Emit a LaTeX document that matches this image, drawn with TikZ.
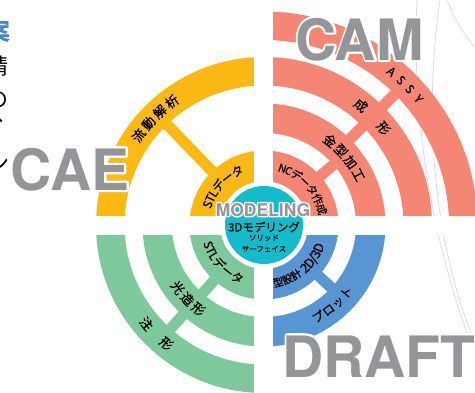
\documentclass[tikz,border=0pt]{standalone}
\usepackage{fontspec}
\setmainfont{TeX Gyre Heros}
\newfontfamily\jp{Noto Sans CJK JP}
\newfontfamily\jpl{Noto Sans CJK JP}[FakeBold=0.7]

\definecolor{caeyel}{HTML}{FDB913}
\definecolor{camred}{HTML}{F58673}
\definecolor{rpgreen}{HTML}{7DC99B}
\definecolor{draftblue}{HTML}{5796D3}
\definecolor{modteal}{HTML}{13BCCB}
\definecolor{wordgray}{HTML}{939598}
\definecolor{textblue}{HTML}{4A86C5}

% white rim round a word
\newcommand\rimword[2]{\makebox[0pt][l]{\color{white}\special{pdf:literal direct 2 Tr #1 w 1 j}#2\special{pdf:literal direct 0 Tr}}#2}

\tikzset{
  faint/.style={draw=black!15,line width=0.7pt},
  spoke/.style={line width=11pt},
  lab/.style={font=\jpl\fontsize{#1}{#1}\selectfont,inner sep=0pt,anchor=base},
  lab/.default=12,
  bigword/.style={font=\bfseries\fontsize{57}{57}\selectfont,text=wordgray,inner sep=0pt,anchor=base},
  sidetext/.style={font=\jp\fontsize{22}{22}\selectfont,inner sep=0pt,anchor=east}
}

\begin{document}
\begin{tikzpicture}[x=1pt,y=1pt]
\useasboundingbox (-264,-167) rectangle (211,225);
\clip (-264,-167) rectangle (211,225);

% faint lines in the background
\draw[faint] (153,225) .. controls (149,145) and (156,25) .. (203,-108);
\draw[faint] (176,225) .. controls (161,125) and (166,-5) .. (208,-110);
\draw[faint] (183,225) .. controls (194,200) .. (211,177);

% CAE
\foreach \ri/\ro in {44/74.5,139.5/168}
  \fill[caeyel] (90:\ro) arc[start angle=90,end angle=180,radius=\ro] -- (180:\ri) arc[start angle=180,end angle=90,radius=\ri] -- cycle;
\draw[spoke,caeyel] (134:70) -- (134:143);

% CAM
\foreach \ri/\ro in {44/74.5,92/121.5,139.5/168,185/213.5}
  \fill[camred] (0:\ro) arc[start angle=0,end angle=90,radius=\ro] -- (90:\ri) arc[start angle=90,end angle=0,radius=\ri] -- cycle;
\draw[spoke,camred] (41:70) -- (41:96);
\draw[spoke,camred] (45:117) -- (45:143);
\draw[spoke,camred] (45:164) -- (45:189);

% rapid prototyping
\foreach \ri/\ro in {44/74.5,92/121.5,139.5/168}
  \fill[rpgreen] (180:\ro) arc[start angle=180,end angle=270,radius=\ro] -- (270:\ri) arc[start angle=270,end angle=180,radius=\ri] -- cycle;
\draw[spoke,rpgreen] (228:70) -- (228:96);
\draw[spoke,rpgreen] (228:117) -- (228:143);

% DRAFT
\foreach \ri/\ro in {44/74.5,92/121.5}
  \fill[draftblue] (270:\ro) arc[start angle=270,end angle=360,radius=\ro] -- (0:\ri) arc[start angle=360,end angle=270,radius=\ri] -- cycle;
\draw[spoke,draftblue] (-43:70) -- (-43:96);

% gaps
\fill[white] (-9.5,-170) rectangle (9.5,230);
\fill[white] (-270,-9.5) rectangle (215,9.5);

\fill[modteal] (0,0) circle[radius=39];

% labels on the rings
\foreach \ch/\a [count=\i] in {流/144.5,動/138.6,解/132.6,析/126.7}
  \node[lab=13,rotate=\a-90] (yo\i) at (\a:149) {\ch};
\foreach \ch/\a [count=\i] in {S/160,T/153.8,L/147.8,デ/139.2,ー/127.7,タ/116.3}
  \node[lab=12,rotate=\a-90] (yi\i) at (\a:55.5) {\ch};

\foreach \ch/\a [count=\i] in {N/72,C/65.6,デ/57.2,ー/46.7,タ/36.2,作/25.7,成/15.2}
  \node[lab=11,rotate=\a-90] (ri\i) at (\a:55.5) {\ch};
\foreach \ch/\a [count=\i] in {金/52,型/44,加/36,工/28}
  \node[lab=13,rotate=\a-90] (rm\i) at (\a:102) {\ch};
\foreach \ch/\a [count=\i] in {成/51,形/39}
  \node[lab=13,rotate=\a-90] (ro\i) at (\a:149) {\ch};
\foreach \ch/\a [count=\i] in {A/50.3,S/46.6,S/43,Y/39.2}
  \node[lab=12,rotate=\a-90] (rx\i) at (\a:195) {\ch};

\foreach \ch/\a [count=\i] in {S/199.5,T/205.7,L/211.7,デ/220.3,ー/231.8,タ/243.2}
  \node[lab=12,rotate=\a+90] (gi\i) at (\a:63.5) {\ch};
\foreach \ch/\a [count=\i] in {光/216,造/224,形/232}
  \node[lab=13,rotate=\a+90] (gm\i) at (\a:111.5) {\ch};
\foreach \ch/\a [count=\i] in {注/220,形/230.5}
  \node[lab=13,rotate=\a+90] (go\i) at (\a:158.5) {\ch};

\foreach \ch/\a [count=\i] in {型/-76,設/-66.5,計/-57}
  \node[lab=10.5,rotate=\a+90] (bi\i) at (\a:63) {\ch};
\foreach \ch/\a [count=\i] in {2/-46.5,D/-39.8,\slash/-34.3,3/-29.2,D/-22.4}
  \node[lab=13,rotate=\a+90] (bd\i) at (\a:64) {\ch};
\foreach \ch/\a [count=\i] in {プ/-59.4,ロ/-52.8,ッ/-46.1,ト/-39.5}
  \node[lab=12,rotate=\a+90] (bo\i) at (\a:111) {\ch};

% centre
\node[font=\jpl\fontsize{11.5}{11.5}\selectfont,inner sep=0pt] (mdl) at (0,-2) {3Dモデリング};
\node[font=\jpl\fontsize{7.5}{7.5}\selectfont,inner sep=0pt] (sld) at (0,-13) {ソリッド};
\node[font=\jpl\fontsize{7.5}{7.5}\selectfont,inner sep=0pt] (srf) at (0,-24) {サーフェイス};
\node[font=\bfseries\fontsize{17.5}{17.5}\selectfont,text=wordgray,inner sep=0pt,anchor=base] (mod) at (-1,9) {\rimword{2.8}{MODELING}};

% big words
\node[bigword] (cae) at (-194,35) {\rimword{4.4}{CAE}};
\node[bigword] (cam) at (95.5,165) {\rimword{4.4}{CAM}};
\node[bigword] (draft) at (115,-152) {\rimword{4.4}{DRAFT}};

% text cut off at the left edge
\node[sidetext,font=\jp\bfseries\fontsize{24}{24}\selectfont,text=textblue] (s1) at (-253,193.5) {案};
\node[sidetext] (s2) at (-255,159) {精};
\node[sidetext] (s3) at (-255,125) {の};
\node[sidetext] (s4) at (-246.5,105) {、};
\node[sidetext] (s5) at (-254,61.5) {ン};
\end{tikzpicture}
\end{document}
